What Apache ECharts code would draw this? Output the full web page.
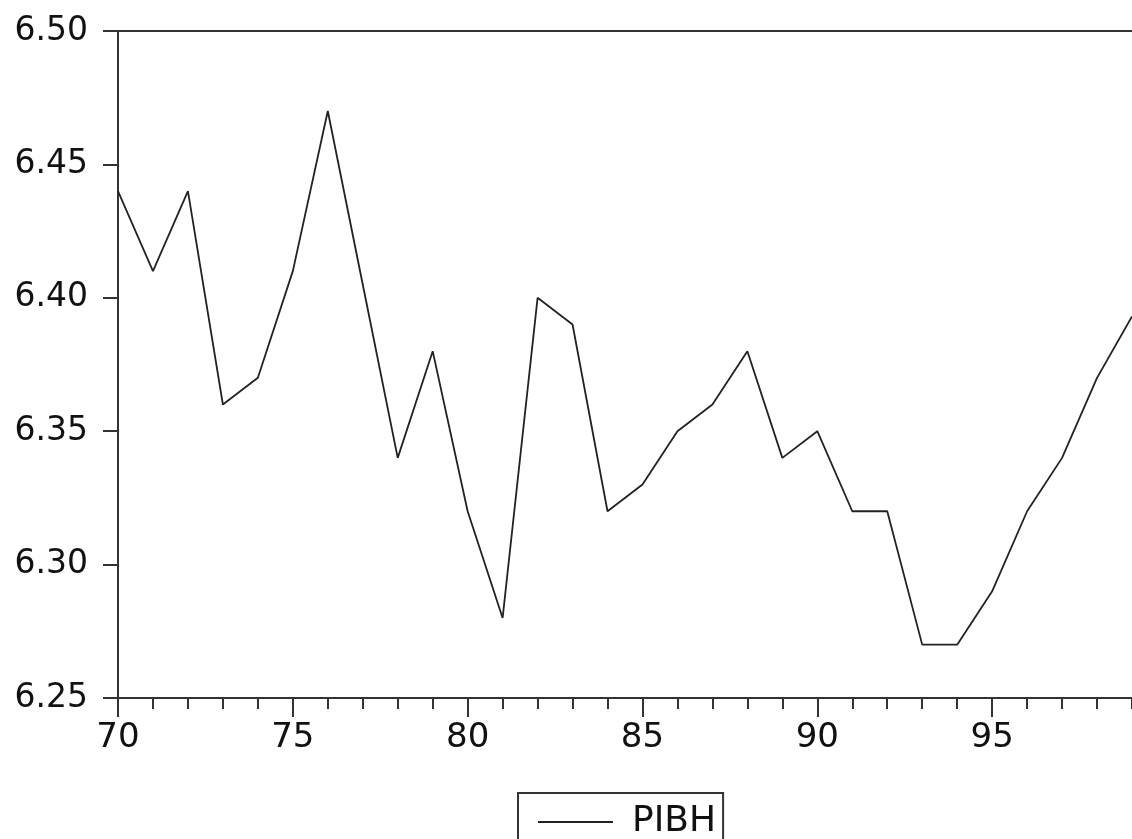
<!DOCTYPE html>
<html>
<head>
<meta charset="utf-8">
<script src="https://cdn.jsdelivr.net/npm/echarts@6/dist/echarts.min.js"></script>
<style>
html, body { margin: 0; padding: 0; background: #fff; }
#chart { width: 1132px; height: 839px; }
</style>
</head>
<body>
<div id="chart"></div>
<script>
var years = [70, 71, 72, 73, 74, 75, 76, 77, 78, 79, 80, 81, 82, 83, 84,
             85, 86, 87, 88, 89, 90, 91, 92, 93, 94, 95, 96, 97, 98, 99];
var pibh = [6.44, 6.41, 6.44, 6.36, 6.37, 6.41, 6.47, 6.405, 6.34, 6.38, 6.32, 6.28, 6.40, 6.39, 6.32,
            6.33, 6.35, 6.36, 6.38, 6.34, 6.35, 6.32, 6.32, 6.27, 6.27, 6.29, 6.32, 6.34, 6.37, 6.393];
var seriesName = 'PIBH';

var points = [];
for (var i = 0; i < years.length; i++) {
    points.push([years[i], pibh[i]]);
}

var axisCol = '#333';
var myChart = echarts.init(document.getElementById('chart'));

myChart.setOption({
    animation: false,
    grid: { left: 118, top: 31, right: -1, bottom: 141 },
    legend: {
        data: [seriesName],
        left: 518,
        top: 793,
        padding: [9, 7, 30, 20],
        borderColor: '#333',
        borderWidth: 2,
        borderRadius: 0,
        icon: 'rect',
        itemWidth: 75,
        itemHeight: 2,
        textStyle: {
            fontFamily: 'DejaVu Sans',
            fontSize: 36,
            lineHeight: 40,
            color: '#111',
            padding: [0, 0, 0, 14]
        }
    },
    xAxis: [
        {
            // yearly minor ticks
            type: 'value', min: 70, max: 99, interval: 1,
            position: 'bottom',
            axisLine: { show: true, lineStyle: { color: axisCol, width: 2 } },
            axisTick: { show: true, length: 11, lineStyle: { color: axisCol, width: 2 } },
            axisLabel: { show: false },
            splitLine: { show: false }
        },
        {
            // five-year ticks with labels
            type: 'value', min: 70, max: 99, interval: 5,
            position: 'bottom',
            axisLine: { show: false },
            axisTick: { show: true, length: 19, lineStyle: { color: axisCol, width: 2 } },
            axisLabel: {
                show: true, margin: 23, showMaxLabel: false,
                fontFamily: 'DejaVu Sans', fontSize: 34, color: '#111'
            },
            splitLine: { show: false }
        },
        {
            // top frame line
            type: 'value', min: 70, max: 99,
            position: 'top',
            axisLine: { show: true, lineStyle: { color: axisCol, width: 2 } },
            axisTick: { show: false },
            axisLabel: { show: false },
            splitLine: { show: false }
        }
    ],
    yAxis: {
        type: 'value', min: 6.25, max: 6.5, interval: 0.05,
        axisLine: { show: true, lineStyle: { color: axisCol, width: 2 } },
        axisTick: { show: true, length: 15, lineStyle: { color: axisCol, width: 2 } },
        axisLabel: {
            margin: 30,
            fontFamily: 'DejaVu Sans', fontSize: 33, color: '#111',
            formatter: function (v) { return v.toFixed(2); }
        },
        splitLine: { show: false }
    },
    series: [{
        name: seriesName,
        type: 'line',
        xAxisIndex: 0,
        data: points,
        symbol: 'none',
        lineStyle: { color: '#222', width: 1.8 },
        itemStyle: { color: '#222' }
    }]
});
</script>
</body>
</html>
